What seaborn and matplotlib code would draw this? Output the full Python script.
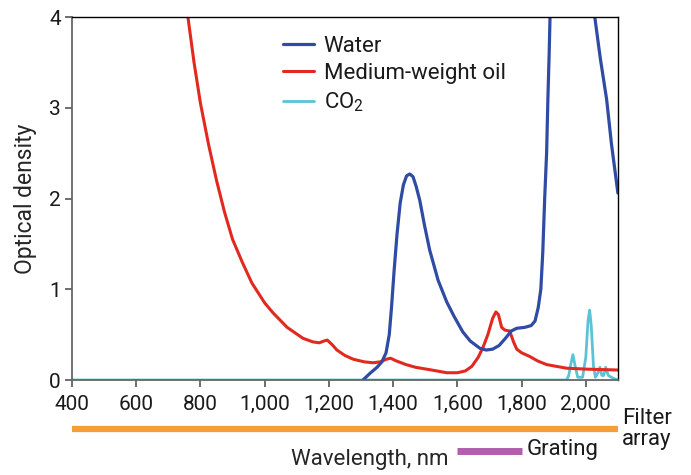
import matplotlib
matplotlib.use("Agg")
import matplotlib.pyplot as plt
import matplotlib.transforms as mtransforms
import seaborn as sns

# Spectra (wavelength in nm, optical density)
water_nm = [1306, 1330, 1350, 1365, 1378, 1388, 1395, 1403, 1412, 1422, 1432,
            1442, 1452, 1462, 1472, 1483, 1498, 1514, 1540, 1567, 1590, 1617,
            1640, 1670, 1690, 1710, 1730, 1750, 1768, 1785, 1810, 1830, 1842,
            1852, 1860, 1866, 1872, 1878, 1882, 1886, 1890, 1900, 1940, 1980,
            2010, 2028, 2045, 2065, 2080, 2100]
water_od = [0.0, 0.08, 0.14, 0.2, 0.3, 0.5, 0.8, 1.2, 1.6, 1.95, 2.15,
            2.25, 2.27, 2.24, 2.13, 1.98, 1.7, 1.43, 1.1, 0.86, 0.7, 0.53,
            0.43, 0.35, 0.33, 0.34, 0.38, 0.46, 0.54, 0.57, 0.58, 0.6, 0.65,
            0.8, 1.0, 1.4, 2.0, 2.5, 3.1, 3.6, 4.2, 5.0, 6.0, 6.0,
            5.0, 4.0, 3.55, 3.09, 2.6, 2.06]

oil_nm = [700, 740, 761, 780, 800, 825, 850, 875, 900, 930, 960, 1000, 1026,
          1070, 1119, 1150, 1170, 1185, 1195, 1210, 1225, 1250, 1275, 1310,
          1337, 1360, 1380, 1392, 1410, 1440, 1470, 1520, 1567, 1600, 1625,
          1645, 1665, 1680, 1695, 1710, 1720, 1728, 1738, 1748, 1763, 1775,
          1785, 1800, 1825, 1850, 1878, 1940, 2000, 2100]
oil_od = [5.5, 4.5, 4.0, 3.5, 3.05, 2.6, 2.2, 1.85, 1.55, 1.3, 1.07, 0.85, 0.74,
          0.58, 0.46, 0.42, 0.41, 0.43, 0.44, 0.39, 0.33, 0.27, 0.23, 0.2,
          0.19, 0.2, 0.23, 0.24, 0.21, 0.17, 0.14, 0.11, 0.08, 0.08, 0.1,
          0.15, 0.25, 0.36, 0.5, 0.68, 0.75, 0.72, 0.58, 0.55, 0.54, 0.42,
          0.34, 0.3, 0.26, 0.21, 0.17, 0.13, 0.12, 0.11]

co2_nm = [400, 1940, 1947, 1953, 1960, 1967, 1975, 1990, 2000, 2007, 2012,
          2017, 2024, 2030, 2038, 2044, 2050, 2056, 2062, 2070, 2085, 2100]
co2_od = [0.0, 0.0, 0.05, 0.17, 0.28, 0.15, 0.03, 0.03, 0.25, 0.65, 0.77,
          0.6, 0.15, 0.03, 0.08, 0.14, 0.05, 0.05, 0.14, 0.05, 0.02, 0.0]

filter_range = [400, 2100]
grating_range = [1600, 1800]

x_ticks = [400, 600, 800, 1000, 1200, 1400, 1600, 1800, 2000]
x_tick_labels = ["400", "600", "800", "1,000", "1,200", "1,400", "1,600", "1,800", "2,000"]
y_ticks = [0, 1, 2, 3, 4]

BLUE = "#2f4ba3"
RED = "#e2291f"
CYAN = "#5cc3d6"
ORANGE = "#f4a035"
PURPLE = "#b25ead"

sns.set_style("ticks")
plt.rcParams["font.family"] = ["Roboto", "DejaVu Sans"]
plt.rcParams["mathtext.fontset"] = "custom"
plt.rcParams["mathtext.rm"] = "Roboto"
plt.rcParams["text.color"] = "#1a1a1a"

fig = plt.figure(figsize=(6.91, 4.75), dpi=100)
ax = fig.add_axes([0.1042, 0.2, 0.790, 0.7642])

sns.lineplot(x=co2_nm, y=co2_od, ax=ax, color=CYAN, linewidth=2.0, label=r"CO$_\mathregular{2}$")
sns.lineplot(x=oil_nm, y=oil_od, ax=ax, color=RED, linewidth=2.2, label="Medium-weight oil")
sns.lineplot(x=water_nm, y=water_od, ax=ax, color=BLUE, linewidth=2.3, label="Water")

ax.set_xlim(400, 2100)
ax.set_ylim(0, 4)
ax.set_xticks(x_ticks)
ax.set_xticklabels(x_tick_labels)
ax.set_yticks(y_ticks)
ax.tick_params(axis="both", labelsize=15, length=5, width=1.2, color="#555555",
               labelcolor="#1a1a1a", pad=3)
ax.tick_params(axis="x", pad=6)

for side in ["left", "bottom"]:
    ax.spines[side].set_color("#666666")
    ax.spines[side].set_linewidth(1.3)
for side in ["top", "right"]:
    ax.spines[side].set_visible(True)
    ax.spines[side].set_color("black")
    ax.spines[side].set_linewidth(1.0)

ax.set_ylabel("Optical density", fontsize=16.5, labelpad=9)
ax.set_xlabel("Wavelength, nm", fontsize=16)
ax.xaxis.set_label_coords(0.546, -0.19)

# Detector coverage bars under the axis
trans = mtransforms.blended_transform_factory(ax.transData, ax.transAxes)
ax.plot(filter_range, [-0.135, -0.135], color=ORANGE, linewidth=4.5,
        solid_capstyle="butt", transform=trans, clip_on=False)
ax.plot(grating_range, [-0.196, -0.196], color=PURPLE, linewidth=5,
        solid_capstyle="butt", transform=trans, clip_on=False)
fig.text(0.900, 0.097, "Filter\narray", fontsize=16, ha="left", va="center", linespacing=0.95)
fig.text(0.762, 0.053, "Grating", fontsize=16, ha="left", va="center")

handles, labels = ax.get_legend_handles_labels()
order = [2, 1, 0]
ax.legend([handles[i] for i in order], [labels[i] for i in order],
          loc="upper left", bbox_to_anchor=(0.386, 0.948), frameon=False,
          fontsize=16, handlelength=1.4, handletextpad=0.45, labelspacing=0.28,
          borderaxespad=0, borderpad=0)

fig.savefig("out.png", dpi=100)
